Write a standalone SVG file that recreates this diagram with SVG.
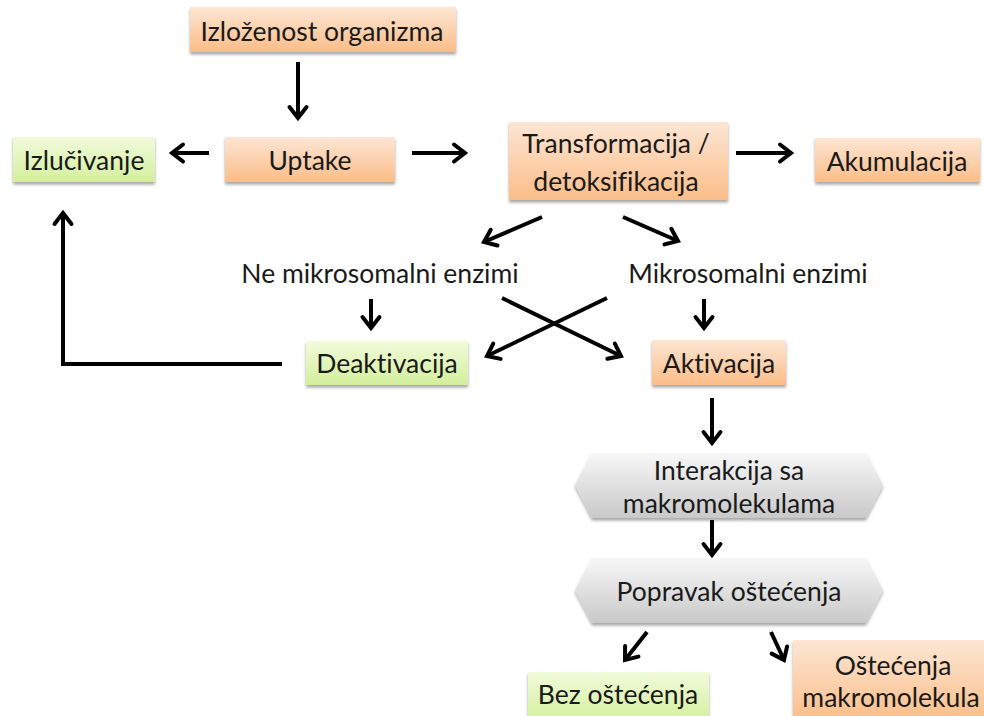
<svg xmlns="http://www.w3.org/2000/svg" width="984" height="716" viewBox="0 0 984 716">
<defs>
<linearGradient id="gO" x1="0" y1="0" x2="0" y2="1"><stop offset="0" stop-color="#fde6d4"/><stop offset="1" stop-color="#fbbd88"/></linearGradient>
<linearGradient id="gG" x1="0" y1="0" x2="0" y2="1"><stop offset="0" stop-color="#f1fbdc"/><stop offset="1" stop-color="#d3ef9c"/></linearGradient>
<linearGradient id="gH" x1="0" y1="0" x2="0" y2="1"><stop offset="0" stop-color="#f7f7f7"/><stop offset="1" stop-color="#c9c9c9"/></linearGradient>
<filter id="sh" x="-10%" y="-20%" width="120%" height="150%"><feDropShadow dx="0" dy="2.5" stdDeviation="1.5" flood-color="#000" flood-opacity="0.35"/></filter>
<marker id="ah" markerUnits="userSpaceOnUse" markerWidth="24" markerHeight="24" viewBox="-14 -12 18 24" refX="0" refY="0" orient="auto"><path d="M -11 -8.5 L 0 0 L -11 8.5" fill="none" stroke="#000" stroke-width="4" stroke-linecap="round" stroke-linejoin="miter"/></marker>
<style>
.o{fill:url(#gO);filter:url(#sh)}
.g{fill:url(#gG);filter:url(#sh)}
.h{fill:url(#gH);filter:url(#sh)}
text{font-family:Lato,"Open Sans","Liberation Sans",sans-serif;font-size:26.5px;fill:#1a1a1a;text-anchor:middle;dominant-baseline:central;font-variant-ligatures:none}
.c line,.c path{stroke:#000;stroke-width:4;fill:none;marker-end:url(#ah)}
</style>
</defs>
<rect width="984" height="716" fill="#fff"/>
<g id="izlozenost"><rect class="o" x="190" y="7" width="266" height="45"/><text x="322" y="31">Izloženost organizma</text></g>
<g id="uptake"><rect class="o" x="225" y="137" width="170" height="45"/><text x="310" y="160">Uptake</text></g>
<g id="izlucivanje"><rect class="g" x="13" y="137" width="142" height="45"/><text x="84" y="160">Izlučivanje</text></g>
<g id="transformacija"><rect class="o" x="509" y="122" width="219" height="78"/><text x="616" y="143">Transformacija /</text><text x="616" y="181">detoksifikacija</text></g>
<g id="akumulacija"><rect class="o" x="815" y="138" width="165" height="44"/><text x="897" y="161">Akumulacija</text></g>
<g id="ne-mikrosomalni"><text x="380" y="273">Ne mikrosomalni enzimi</text></g>
<g id="mikrosomalni"><text x="748" y="273">Mikrosomalni enzimi</text></g>
<g id="deaktivacija"><rect class="g" x="306" y="341" width="162" height="44"/><text x="387" y="363">Deaktivacija</text></g>
<g id="aktivacija"><rect class="o" x="652" y="340" width="134" height="45"/><text x="719" y="363">Aktivacija</text></g>
<g id="interakcija"><path class="h" d="M592 453 L866 453 L883 485 L866 518 L592 518 L575 485 Z"/><text x="729" y="470">Interakcija sa</text><text x="729" y="503">makromolekulama</text></g>
<g id="popravak"><path class="h" d="M592 558 L866 558 L883 590 L866 623 L592 623 L575 590 Z"/><text x="729" y="591">Popravak oštećenja</text></g>
<g id="bez"><rect class="g" x="528" y="672" width="181" height="50"/><text x="618" y="694">Bez oštećenja</text></g>
<g id="ostecenja"><rect class="o" x="793" y="640" width="200" height="82"/><text x="893" y="665">Oštećenja</text><text x="891" y="697">makromolekula</text></g>
<g id="connectors" class="c">
<line x1="298" y1="62" x2="298" y2="118"/>
<line x1="209" y1="153" x2="172" y2="153"/>
<line x1="412" y1="153" x2="465" y2="153"/>
<line x1="736" y1="153" x2="791" y2="153"/>
<path d="M282 364 L63 364 L63 213"/>
<line x1="542" y1="217" x2="484" y2="242"/>
<line x1="623" y1="217" x2="678" y2="241"/>
<line x1="371" y1="299" x2="371" y2="328"/>
<line x1="704" y1="299" x2="704" y2="328"/>
<line x1="502" y1="298" x2="621" y2="356"/>
<line x1="607" y1="298" x2="487" y2="356"/>
<line x1="712" y1="398" x2="712" y2="443"/>
<line x1="712" y1="520" x2="712" y2="555"/>
<line x1="647" y1="632" x2="625" y2="660"/>
<line x1="771" y1="632" x2="784" y2="660"/>
</g>
</svg>
